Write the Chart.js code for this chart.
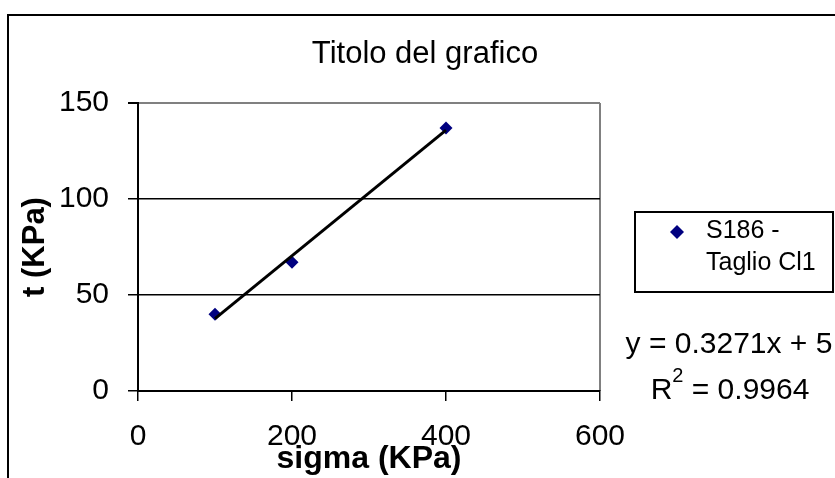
<!DOCTYPE html>
<html>
<head>
<meta charset="utf-8">
<script src="https://cdn.jsdelivr.net/npm/chart.js@4.4.1/dist/chart.umd.min.js"></script>
<style>
  html, body { margin: 0; padding: 0; background: #fff; overflow: hidden; }
  #wrap { width: 835px; height: 478px; position: relative; }
</style>
</head>
<body>
<div id="wrap"><canvas id="c" width="835" height="478"></canvas></div>
<script>
// Shear test: normal stress vs shear stress
const chartTitle = 'Titolo del grafico';
const seriesLabelLines = ['S186 -', 'Taglio Cl1'];
const sigmaValues = [100, 200, 400];
const tauValues = [40, 67, 137];
const xTicks = [0, 200, 400, 600];
const yTicks = [0, 50, 100, 150];
const xAxisTitle = 'sigma (KPa)';
const yAxisTitle = 't (KPa)';
// Linear trendline reported on the chart
const trendSlope = 0.3271;
const trendIntercept = 5;
const trendR2 = 0.9964;

const FONT = '"Liberation Sans", Arial, sans-serif';
const MARKER = '#000080';

const points = sigmaValues.map((x, i) => ({ x, y: tauValues[i] }));
const xMin = Math.min(...sigmaValues), xMax = Math.max(...sigmaValues);
const trendPoints = [xMin, xMax].map(x => ({ x, y: trendSlope * x + trendIntercept }));

const decor = {
  id: 'decor',
  beforeDraw(chart) {
    const { ctx, chartArea: a } = chart;
    ctx.save();
    ctx.fillStyle = '#fff';
    ctx.fillRect(0, 0, chart.width, chart.height);
    // outer chart frame
    ctx.strokeStyle = '#000';
    ctx.lineWidth = 2;
    ctx.strokeRect(8, 15, 900, 600);
    // plot area right edge
    ctx.strokeStyle = '#808080';
    ctx.lineWidth = 2;
    ctx.beginPath();
    ctx.moveTo(a.right, a.top);
    ctx.lineTo(a.right, a.bottom);
    ctx.stroke();
    ctx.restore();
  },
  afterDraw(chart) {
    const { ctx } = chart;
    ctx.save();
    ctx.fillStyle = '#000';
    ctx.textBaseline = 'alphabetic';

    // title
    ctx.font = '31px ' + FONT;
    ctx.textAlign = 'center';
    ctx.fillText(chartTitle, 425, 63);

    // legend box
    ctx.strokeStyle = '#000';
    ctx.lineWidth = 2;
    ctx.strokeRect(635, 212, 198, 80);
    const ds = chart.data.datasets[0];
    ctx.fillStyle = ds.backgroundColor;
    ctx.beginPath();
    ctx.moveTo(677, 225); ctx.lineTo(684, 232); ctx.lineTo(677, 239); ctx.lineTo(670, 232);
    ctx.closePath();
    ctx.fill();
    ctx.fillStyle = '#000';
    ctx.font = '25px ' + FONT;
    ctx.textAlign = 'left';
    seriesLabelLines.forEach((t, i) => ctx.fillText(t, 706, 238 + i * 32));

    // trendline equation
    ctx.font = '30px ' + FONT;
    ctx.textAlign = 'center';
    ctx.fillText('y = ' + trendSlope + 'x + ' + trendIntercept, 729, 353);
    ctx.textAlign = 'left';
    const rest = ' = ' + trendR2;
    const wR = ctx.measureText('R').width;
    const wRest = ctx.measureText(rest).width;
    ctx.font = '20px ' + FONT;
    const w2 = ctx.measureText('2').width;
    const start = 730 - (wR + w2 + wRest) / 2;
    ctx.font = '30px ' + FONT;
    ctx.fillText('R', start, 399);
    ctx.fillText(rest, start + wR + w2, 399);
    ctx.font = '20px ' + FONT;
    ctx.fillText('2', start + wR, 382);
    ctx.restore();
  }
};

new Chart(document.getElementById('c'), {
  data: {
    datasets: [
      {
        type: 'scatter',
        label: seriesLabelLines.join(' '),
        data: points,
        pointStyle: 'rectRot',
        pointRadius: 6.5,
        backgroundColor: MARKER,
        borderColor: MARKER,
        borderWidth: 0,
        order: 1
      },
      {
        type: 'line',
        label: 'Lineare',
        data: trendPoints,
        borderColor: '#000',
        borderWidth: 3,
        pointRadius: 0,
        fill: false,
        order: 0
      }
    ]
  },
  options: {
    responsive: false,
    animation: false,
    devicePixelRatio: 1,
    layout: { padding: { left: 0, top: 103, right: 235, bottom: 0 } },
    plugins: { legend: { display: false }, tooltip: { enabled: false }, title: { display: false } },
    scales: {
      x: {
        type: 'linear',
        min: xTicks[0],
        max: xTicks[xTicks.length - 1],
        afterBuildTicks: s => { s.ticks = xTicks.map(v => ({ value: v })); },
        afterFit: s => { s.height = 87; },
        grid: { drawOnChartArea: false, tickLength: 10, tickColor: '#000', lineWidth: 1.5 },
        border: { color: '#000', width: 2 },
        ticks: { font: { family: FONT, size: 30 }, color: '#000', padding: 18, maxRotation: 0 },
        title: { display: true, text: xAxisTitle, color: '#000', font: { family: FONT, size: 32, weight: 'bold' }, padding: { top: 0, bottom: 0 } }
      },
      y: {
        type: 'linear',
        min: yTicks[0],
        max: yTicks[yTicks.length - 1],
        afterBuildTicks: s => { s.ticks = yTicks.map(v => ({ value: v })); },
        afterFit: s => { s.width = 138; },
        grid: {
          color: c => (c.tick && c.tick.value === yTicks[yTicks.length - 1]) ? '#808080' : '#000',
          lineWidth: c => (c.tick && c.tick.value === yTicks[yTicks.length - 1]) ? 2 : 1.5,
          tickLength: 10, tickColor: '#000'
        },
        border: { color: '#000', width: 2 },
        ticks: { font: { family: FONT, size: 30 }, color: '#000', padding: 19 },
        title: { display: true, text: yAxisTitle, color: '#000', font: { family: FONT, size: 31, weight: 'bold' }, padding: { top: 17, bottom: 0 } }
      }
    }
  },
  plugins: [decor]
});
</script>
</body>
</html>
